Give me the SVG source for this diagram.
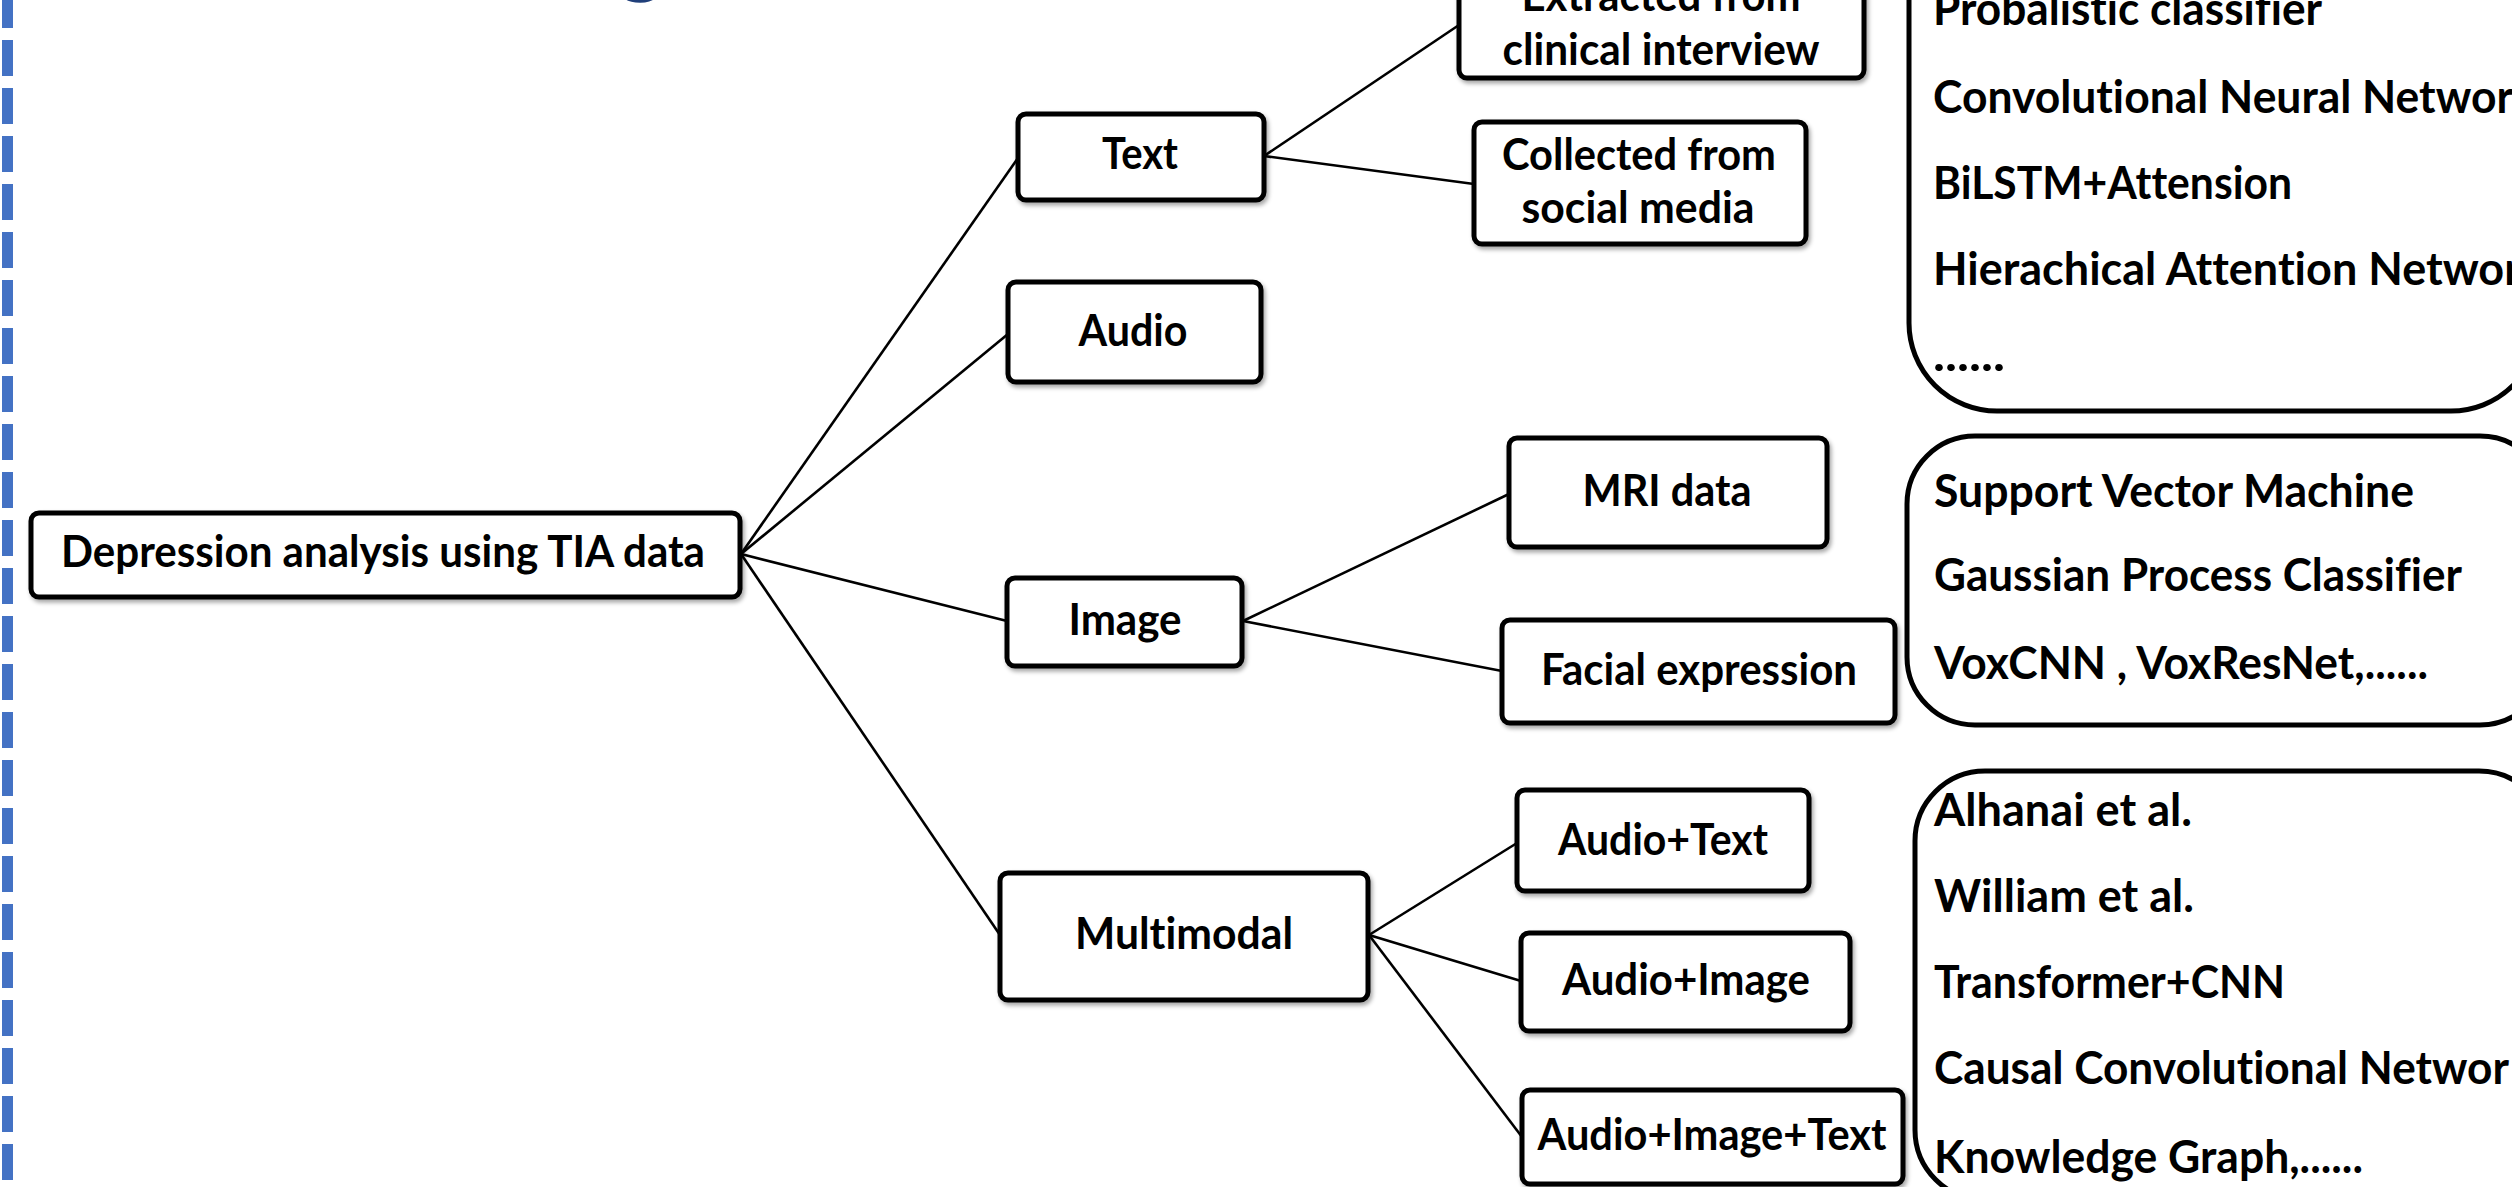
<svg xmlns="http://www.w3.org/2000/svg" width="2512" height="1187" viewBox="0 0 2512 1187">
<defs>
<filter id="sh" x="-10%" y="-10%" width="120%" height="130%">
<feDropShadow dx="2" dy="3" stdDeviation="2" flood-color="#000" flood-opacity="0.35"/>
</filter>
<style>
.node rect{fill:#fff;stroke:#000;stroke-width:5;filter:url(#sh)}
.t{font-family:Lato,"Open Sans",sans-serif;font-weight:bold;font-size:44px;fill:#000;text-anchor:middle;font-variant-ligatures:none}
.big{fill:#fff;stroke:#000;stroke-width:5}
.l{font-family:Lato,"Open Sans",sans-serif;font-weight:bold;font-size:46px;fill:#000;font-variant-ligatures:none}
#connectors line{stroke:#000;stroke-width:2.6;fill:none}
</style>
</defs>
<rect width="2512" height="1187" fill="#fff"/>
<line x1="7.5" y1="0" x2="7.5" y2="1187" stroke="#4472C4" stroke-width="11" stroke-dasharray="36 12" stroke-dashoffset="8"/>
<text x="641" y="-14" font-family="Lato,sans-serif" font-size="90" fill="#203F7A" text-anchor="middle">g</text>

<g id="connectors">
<line x1="741" y1="554" x2="1018" y2="158"/>
<line x1="741" y1="554" x2="1008" y2="334"/>
<line x1="741" y1="554" x2="1007" y2="621"/>
<line x1="741" y1="554" x2="1000" y2="935"/>
<line x1="1264" y1="156" x2="1459" y2="25"/>
<line x1="1264" y1="156" x2="1474" y2="184"/>
<line x1="1243" y1="621" x2="1509" y2="494"/>
<line x1="1243" y1="621" x2="1502" y2="671"/>
<line x1="1369" y1="935" x2="1517" y2="843"/>
<line x1="1369" y1="935" x2="1521" y2="981"/>
<line x1="1369" y1="935" x2="1522" y2="1137"/>
</g>

<g id="root" class="node"><rect x="31" y="513" width="709" height="84" rx="8"/><text class="t" x="383" y="567" textLength="644" lengthAdjust="spacingAndGlyphs">Depression analysis using TIA data</text></g>
<g id="text" class="node"><rect x="1018" y="114" width="246" height="86" rx="8"/><text class="t" x="1140" y="169" textLength="76" lengthAdjust="spacingAndGlyphs">Text</text></g>
<g id="audio" class="node"><rect x="1008" y="282" width="253" height="100" rx="8"/><text class="t" x="1133" y="346" textLength="109" lengthAdjust="spacingAndGlyphs">Audio</text></g>
<g id="image" class="node"><rect x="1007" y="578" width="235" height="88" rx="8"/><text class="t" x="1125" y="635" textLength="113" lengthAdjust="spacingAndGlyphs">Image</text></g>
<g id="multimodal" class="node"><rect x="1000" y="873" width="368" height="127" rx="8"/><text class="t" x="1184" y="949" textLength="218" lengthAdjust="spacingAndGlyphs">Multimodal</text></g>
<g id="extracted" class="node"><rect x="1459" y="-30" width="405" height="108" rx="8"/><text class="t" x="1661" y="11" textLength="279" lengthAdjust="spacingAndGlyphs">Extracted from</text><text class="t" x="1661" y="65" textLength="317" lengthAdjust="spacingAndGlyphs">clinical interview</text></g>
<g id="collected" class="node"><rect x="1474" y="122" width="332" height="122" rx="8"/><text class="t" x="1639" y="170" textLength="274" lengthAdjust="spacingAndGlyphs">Collected from</text><text class="t" x="1638" y="223" textLength="233" lengthAdjust="spacingAndGlyphs">social media</text></g>
<g id="mri" class="node"><rect x="1509" y="438" width="318" height="109" rx="8"/><text class="t" x="1667" y="506" textLength="169" lengthAdjust="spacingAndGlyphs">MRI data</text></g>
<g id="facial" class="node"><rect x="1502" y="620" width="393" height="103" rx="8"/><text class="t" x="1699" y="685" textLength="316" lengthAdjust="spacingAndGlyphs">Facial expression</text></g>
<g id="audiotext" class="node"><rect x="1517" y="790" width="292" height="101" rx="8"/><text class="t" x="1663" y="855" textLength="210" lengthAdjust="spacingAndGlyphs">Audio+Text</text></g>
<g id="audioimage" class="node"><rect x="1521" y="933" width="329" height="98" rx="8"/><text class="t" x="1686" y="995" textLength="248" lengthAdjust="spacingAndGlyphs">Audio+Image</text></g>
<g id="audioimagetext" class="node"><rect x="1522" y="1090" width="381" height="94" rx="8"/><text class="t" x="1712" y="1150" textLength="349" lengthAdjust="spacingAndGlyphs">Audio+Image+Text</text></g>

<g id="text-methods"><rect class="big" x="1909" y="-120" width="630" height="531" rx="88"/>
<text class="l" x="1933" y="25" textLength="389" lengthAdjust="spacingAndGlyphs">Probalistic classifier</text>
<text class="l" x="1933" y="113" textLength="580" lengthAdjust="spacingAndGlyphs">Convolutional Neural Networ</text>
<text class="l" x="1933" y="199" textLength="359" lengthAdjust="spacingAndGlyphs">BiLSTM+Attension</text>
<text class="l" x="1933" y="285" textLength="588" lengthAdjust="spacingAndGlyphs">Hierachical Attention Networ</text>
<text class="l" x="1933" y="371" textLength="72" lengthAdjust="spacingAndGlyphs">......</text>
</g>
<g id="image-methods"><rect class="big" x="1907" y="436" width="641" height="289" rx="68"/>
<text class="l" x="1934" y="507" textLength="480" lengthAdjust="spacingAndGlyphs">Support Vector Machine</text>
<text class="l" x="1934" y="591" textLength="528" lengthAdjust="spacingAndGlyphs">Gaussian Process Classifier</text>
<text class="l" x="1934" y="679" textLength="494" lengthAdjust="spacingAndGlyphs">VoxCNN , VoxResNet,......</text>
</g>
<g id="multimodal-methods"><rect class="big" x="1915" y="771" width="634" height="429" rx="70"/>
<text class="l" x="1934" y="826" textLength="258" lengthAdjust="spacingAndGlyphs">Alhanai et al.</text>
<text class="l" x="1934" y="912" textLength="260" lengthAdjust="spacingAndGlyphs">William et al.</text>
<text class="l" x="1934" y="998" textLength="351" lengthAdjust="spacingAndGlyphs">Transformer+CNN</text>
<text class="l" x="1934" y="1084" textLength="575" lengthAdjust="spacingAndGlyphs">Causal Convolutional Networ</text>
<text class="l" x="1934" y="1173" textLength="429" lengthAdjust="spacingAndGlyphs">Knowledge Graph,......</text>
</g>
</svg>
